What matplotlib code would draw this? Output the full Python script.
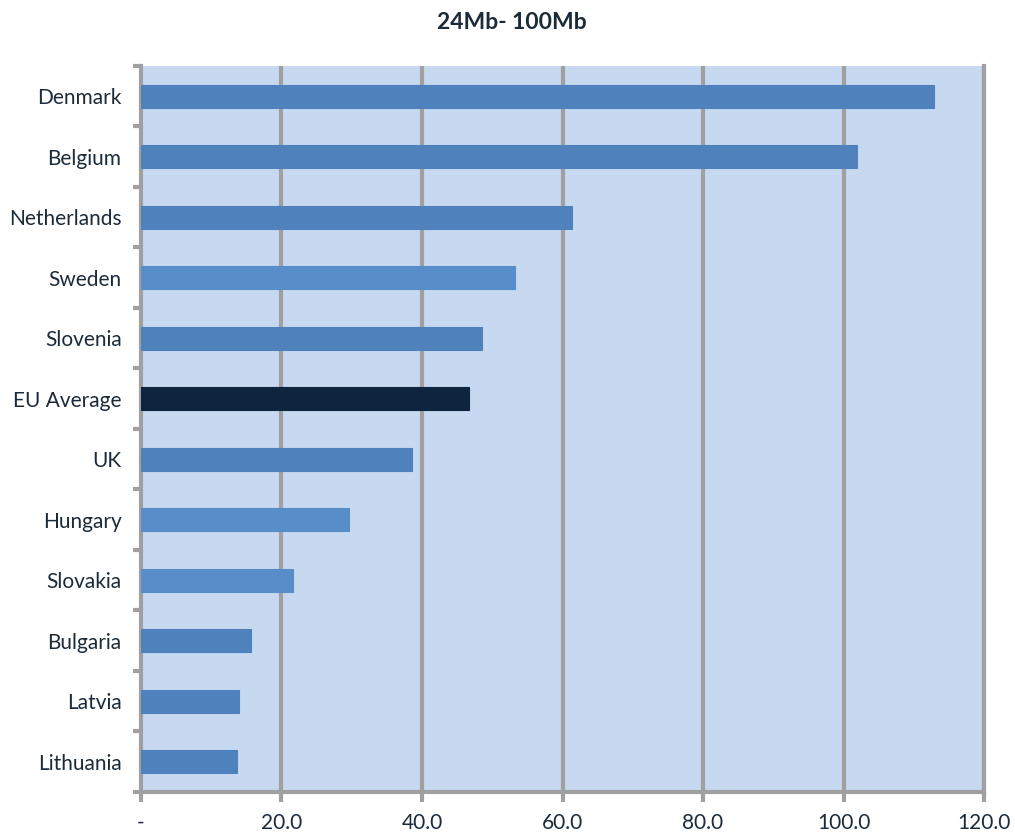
import numpy as np
import matplotlib.pyplot as plt
from matplotlib.ticker import FixedLocator

countries = ['Denmark', 'Belgium', 'Netherlands', 'Sweden', 'Slovenia', 'EU Average',
             'UK', 'Hungary', 'Slovakia', 'Bulgaria', 'Latvia', 'Lithuania']
values = [112.9, 101.9, 61.4, 53.2, 48.6, 46.7, 38.6, 29.6, 21.6, 15.7, 13.9, 13.7]
xticks = [0, 20, 40, 60, 80, 100, 120]
xticklabels = ['-', '20.0', '40.0', '60.0', '80.0', '100.0', '120.0']

dark = '#4F81BD'
light = '#578DC9'
eu = '#0F243E'
colors = []
for c in countries:
    if c == 'EU Average':
        colors.append(eu)
    elif c in ('Sweden', 'Hungary', 'Slovakia'):
        colors.append(light)
    else:
        colors.append(dark)

plt.rcParams['font.family'] = ['Lato', 'DejaVu Sans']
txt = '#1C2B3A'
grid = '#A0A0A0'

fig = plt.figure(figsize=(10.15, 8.34), dpi=100)
ax = fig.add_axes([0.1389, 0.0504, 0.8306, 0.8705])
ax.set_facecolor('#C6D9F0')

y = np.arange(len(countries))
ax.barh(y, values, height=0.38, color=colors, edgecolor=colors, linewidth=0.8, zorder=3)
ax.set_ylim(len(countries) - 0.5, -0.5)
ax.set_xlim(0, 120)

ax.set_xticks(xticks)
ax.set_xticklabels(xticklabels, fontsize=15, color=txt)
ax.set_yticks(y)
ax.set_yticklabels(countries, fontsize=15, color=txt)
ax.tick_params(axis='y', length=0, pad=14)
ax.yaxis.set_minor_locator(FixedLocator(np.arange(-0.5, len(countries), 1)))
ax.tick_params(axis='y', which='minor', length=6, width=3, color=grid, direction='out')
ax.tick_params(axis='x', length=7, width=3, color=grid, direction='out', pad=8)

for xv in xticks[1:]:
    ax.axvline(xv, color=grid, linewidth=3, zorder=1)

for s in ['left', 'bottom', 'right']:
    ax.spines[s].set_color(grid)
    ax.spines[s].set_linewidth(3)
ax.spines['top'].set_visible(False)

fig.text(0.5045, 0.9735, '24Mb- 100Mb', ha='center', va='center',
         fontsize=16.5, fontweight='bold', color=txt)

plt.savefig('out.png', dpi=100)
